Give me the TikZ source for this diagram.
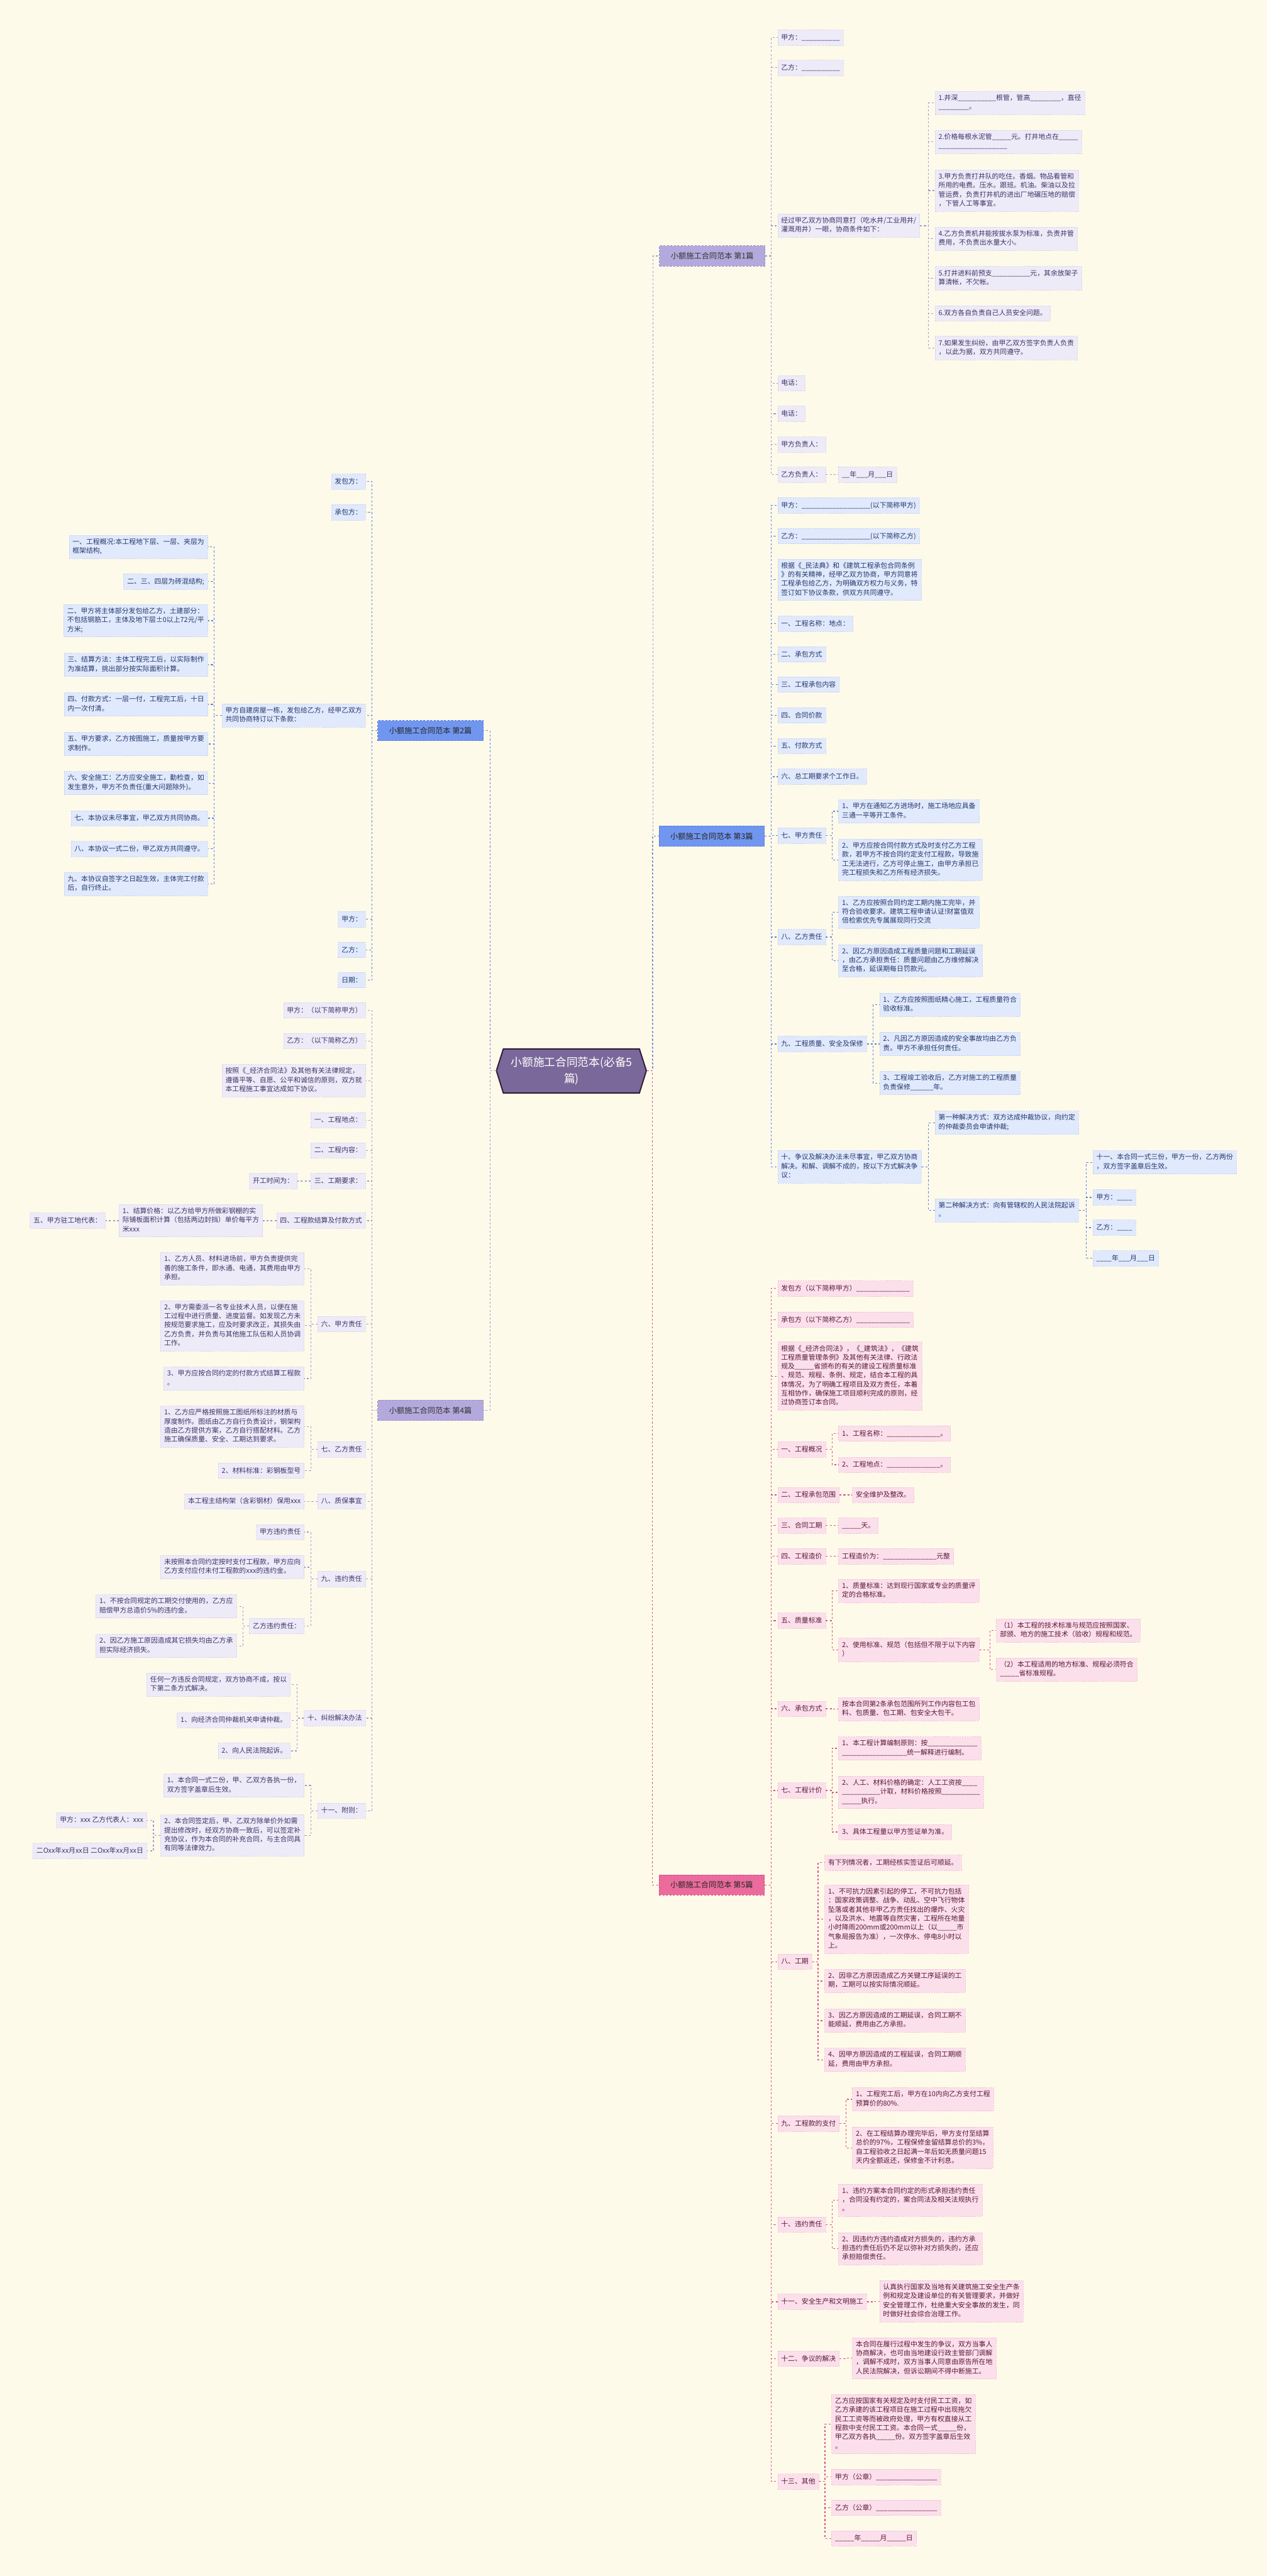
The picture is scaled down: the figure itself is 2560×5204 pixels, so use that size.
\documentclass[tikz,border=0pt]{standalone}
\usepackage{fontspec}
\setmainfont{Noto Sans CJK SC}
\definecolor{bgc}{HTML}{FEFAEA}
\definecolor{LavL}{HTML}{EEEBF8}\definecolor{LavB}{HTML}{D8D1EE}\definecolor{LavT}{HTML}{3D3366}
\definecolor{BluL}{HTML}{E1E9FC}\definecolor{BluB}{HTML}{C5D3F6}\definecolor{BluT}{HTML}{23386B}
\definecolor{PnkL}{HTML}{FBE0EC}\definecolor{PnkB}{HTML}{F2C0D5}\definecolor{PnkT}{HTML}{5A1835}
\definecolor{LavN}{HTML}{B4A9DC}\definecolor{LavNB}{HTML}{9A8CCB}
\definecolor{BluN}{HTML}{7196F0}\definecolor{BluNB}{HTML}{5577DD}
\definecolor{PnkN}{HTML}{EB6B9C}\definecolor{PnkNB}{HTML}{D14B80}
\definecolor{LavE}{HTML}{A497D0}\definecolor{BluE}{HTML}{5F80E2}\definecolor{PnkE}{HTML}{DA5385}
\definecolor{rootF}{HTML}{7A689A}\definecolor{rootB}{HTML}{2E1A33}
\newcommand\mybs{\rule[-2.2pt]{0pt}{9.1pt}}
\newcommand\myR[5]{\node[#1,anchor=west] (#2) at (#3,#4) {#5};}
\newcommand\myL[5]{\node[#1,anchor=east] (#2) at (#3,#4) {#5};}
\newcommand\myconR[3]{\draw[#1] (#2.east) -| ([xshift=-6.5pt]#3.west) -- (#3.west);}
\newcommand\myconL[3]{\draw[#1] (#2.west) -| ([xshift=6.5pt]#3.east) -- (#3.east);}
\tikzset{
 basebox/.style={font=\fontsize{6.9}{9.1}\selectfont, inner xsep=3.5pt, inner ysep=3.2pt, align=left,
   execute at begin node=\mybs, execute at end node=\mybs, line width=0.4pt, dash pattern=on 1.5pt off 1pt},
 lav/.style={basebox, fill=LavL, draw=LavB, text=LavT},
 blu/.style={basebox, fill=BluL, draw=BluB, text=BluT},
 pnk/.style={basebox, fill=PnkL, draw=PnkB, text=PnkT},
 brnode/.style={font=\fontsize{7.75}{9.5}\selectfont, minimum width=106.5pt, minimum height=20.5pt, inner sep=2pt,
   line width=0.6pt, dash pattern=on 2pt off 1.5pt},
 brlav/.style={brnode, fill=LavN, draw=LavNB, text=black!80},
 brblu/.style={brnode, fill=BluN, draw=BluNB, text=black!85},
 brpnk/.style={brnode, fill=PnkN, draw=PnkNB, text=black!85},
 eLav/.style={draw=LavE, line width=0.75pt, dash pattern=on 2pt off 2pt},
 eBlu/.style={draw=BluE, line width=0.75pt, dash pattern=on 2pt off 2pt},
 ePnk/.style={draw=PnkE, line width=0.75pt, dash pattern=on 2pt off 2pt},
}
\begin{document}
\catcode`\_=12
\begin{tikzpicture}[x=0.5pt,y=-0.5pt]
\useasboundingbox (0,0) rectangle (2560,5204);
\fill[bgc] (0,0) rectangle (2560,5204);
% root
\filldraw[fill=rootF, draw=rootB, line width=1.2pt] (1003,2163) -- (1017,2119) -- (1292,2119) -- (1306,2163) -- (1292,2208) -- (1017,2208) -- cycle;
\node[font=\fontsize{11.25}{16.5}\selectfont, text=white, align=center, minimum width=151.5pt, minimum height=44.5pt, inner sep=0pt] (root) at (1155,2163) {小额施工合同范本(必备5\\篇)};
% branch nodes
\node[brlav, anchor=west] (b1) at (1332,517) {小额施工合同范本 第1篇};
\node[brblu, anchor=west] (b3) at (1331,1689) {小额施工合同范本 第3篇};
\node[brpnk, anchor=west] (b5) at (1331,3808) {小额施工合同范本 第5篇};
\node[brblu, anchor=east] (b2) at (977,1476) {小额施工合同范本 第2篇};
\node[brlav, anchor=east] (b4) at (977,2849) {小额施工合同范本 第4篇};
% ===== branch 1 =====
\myR{lav}{p1a}{1571}{76}{甲方：__________}
\myR{lav}{p1b}{1571}{137}{乙方：__________}
\myR{lav}{p1c}{1571}{456}{经过甲乙双方协商同意打（吃水井/工业用井/\\灌溉用井）一眼，协商条件如下：}
\myR{lav}{q1a}{1889}{208}{1.井深__________根管，管高________，直径\\________。}
\myR{lav}{q1b}{1889}{287}{2.价格每根水泥管_____元。打井地点在_____\\__________________}
\myR{lav}{q1c}{1889}{385}{3.甲方负责打井队的吃住。香烟。物品看管和\\所用的电费。压水。跟班。机油。柴油以及拉\\管运费，负责打井机的进出厂地碾压地的赔偿\\，下管人工等事宜。}
\myR{lav}{q1d}{1889}{482}{4.乙方负责机井能按拔水泵为标准，负责井管\\费用，不负责出水量大小。}
\myR{lav}{q1e}{1889}{562}{5.打井进料前预支__________元，其余放架子\\算清帐，不欠帐。}
\myR{lav}{q1f}{1889}{633}{6.双方各自负责自己人员安全问题。}
\myR{lav}{q1g}{1889}{703}{7.如果发生纠纷，由甲乙双方签字负责人负责\\，以此为据，双方共同遵守。}
\myR{lav}{p1d}{1571}{774}{电话：}
\myR{lav}{p1e}{1571}{836}{电话：}
\myR{lav}{p1f}{1571}{898}{甲方负责人：}
\myR{lav}{p1g}{1571}{959}{乙方负责人：}
\myR{lav}{q1h}{1694}{959}{__年___月___日}
% ===== branch 3 =====
\myR{blu}{p3a}{1571}{1021}{甲方：__________________(以下简称甲方)}
\myR{blu}{p3b}{1571}{1083}{乙方：__________________(以下简称乙方)}
\myR{blu}{p3c}{1571}{1171}{根据《_民法典》和《建筑工程承包合同条例\\》的有关精神，经甲乙双方协商，甲方同意将\\工程承包给乙方，为明确双方权力与义务，特\\签订如下协议条款，供双方共同遵守。}
\myR{blu}{p3d}{1571}{1260}{一、工程名称：地点：}
\myR{blu}{p3e}{1571}{1322}{二、承包方式}
\myR{blu}{p3f}{1571}{1383}{三、工程承包内容}
\myR{blu}{p3g}{1571}{1445}{四、合同价款}
\myR{blu}{p3h}{1571}{1507}{五、付款方式}
\myR{blu}{p3i}{1571}{1569}{六、总工期要求个工作日。}
\myR{blu}{p3j}{1571}{1688}{七、甲方责任}
\myR{blu}{q3a}{1694}{1639}{1、甲方在通知乙方进场时，施工场地应具备\\三通一平等开工条件。}
\myR{blu}{q3b}{1694}{1737}{2、甲方应按合同付款方式及时支付乙方工程\\款，若甲方不按合同约定支付工程款，导致施\\工无法进行，乙方可停止施工，由甲方承担已\\完工程损失和乙方所有经济损失。}
\myR{blu}{p3k}{1571}{1893}{八、乙方责任}
\myR{blu}{q3c}{1694}{1843}{1、乙方应按照合同约定工期内施工完毕，并\\符合验收要求。建筑工程申请认证!财富值双\\倍检索优先专属展现同行交流}
\myR{blu}{q3d}{1694}{1941}{2、因乙方原因造成工程质量问题和工期延误\\，由乙方承担责任：质量问题由乙方维修解决\\至合格，延误期每日罚款元。}
\myR{blu}{p3l}{1571}{2109}{九、工程质量、安全及保修}
\myR{blu}{q3e}{1777}{2030}{1、乙方应按照图纸精心施工，工程质量符合\\验收标准。}
\myR{blu}{q3f}{1777}{2109}{2、凡因乙方原因造成的安全事故均由乙方负\\责。甲方不承担任何责任。}
\myR{blu}{q3g}{1777}{2188}{3、工程竣工验收后，乙方对施工的工程质量\\负责保修______年。}
\myR{blu}{p3m}{1571}{2357}{十、争议及解决办法未尽事宜，甲乙双方协商\\解决。和解、调解不成的，按以下方式解决争\\议：}
\myR{blu}{q3h}{1889}{2268}{第一种解决方式：双方达成仲裁协议，向约定\\的仲裁委员会申请仲裁;}
\myR{blu}{q3i}{1889}{2445}{第二种解决方式：向有管辖权的人民法院起诉\\。}
\myR{blu}{r3a}{2208}{2348}{十一、本合同一式三份，甲方一份，乙方两份\\，双方签字盖章后生效。}
\myR{blu}{r3b}{2208}{2419}{甲方：____}
\myR{blu}{r3c}{2208}{2480}{乙方：____}
\myR{blu}{r3d}{2208}{2542}{____年___月___日}
% ===== branch 5 =====
\myR{pnk}{p5a}{1571}{2603}{发包方（以下简称甲方）______________}
\myR{pnk}{p5b}{1571}{2666}{承包方（以下简称乙方）______________}
\myR{pnk}{p5c}{1571}{2780}{根据《_经济合同法》，《_建筑法》，《建筑\\工程质量管理条例》及其他有关法律、行政法\\规及_____省颁布的有关的建设工程质量标准\\、规范、规程、条例、规定，结合本工程的具\\体情况，为了明确工程项目及双方责任，本着\\互相协作，确保施工项目顺利完成的原则，经\\过协商签订本合同。}
\myR{pnk}{p5d}{1571}{2928}{一、工程概况}
\myR{pnk}{q5a}{1694}{2896}{1、工程名称：______________。}
\myR{pnk}{q5b}{1694}{2959}{2、工程地点：______________。}
\myR{pnk}{p5e}{1571}{3020}{二、工程承包范围}
\myR{pnk}{q5c}{1722}{3020}{安全维护及整改。}
\myR{pnk}{p5f}{1571}{3082}{三、合同工期}
\myR{pnk}{q5d}{1694}{3082}{_____天。}
\myR{pnk}{p5g}{1571}{3144}{四、工程造价}
\myR{pnk}{q5e}{1694}{3144}{工程造价为：______________元整}
\myR{pnk}{p5h}{1571}{3274}{五、质量标准}
\myR{pnk}{q5f}{1694}{3214}{1、质量标准：达到现行国家或专业的质量评\\定的合格标准。}
\myR{pnk}{q5g}{1694}{3333}{2、使用标准、规范（包括但不限于以下内容\\）}
\myR{pnk}{r5a}{2013}{3294}{（1）本工程的技术标准与规范应按照国家、\\部颁、地方的施工技术（验收）规程和规范。}
\myR{pnk}{r5b}{2013}{3373}{（2）本工程适用的地方标准、规程必须符合\\_____省标准规程。}
\myR{pnk}{p5i}{1571}{3452}{六、承包方式}
\myR{pnk}{q5h}{1694}{3453}{按本合同第2条承包范围所列工作内容包工包\\料、包质量、包工期、包安全大包干。}
\myR{pnk}{p5j}{1571}{3617}{七、工程计价}
\myR{pnk}{q5i}{1694}{3532}{1、本工程计算编制原则：按_____________\\_________________统一解释进行编制。}
\myR{pnk}{q5j}{1694}{3621}{2、人工、材料价格的确定：人工工资按____\\__________计取，材料价格按照__________\\_____执行。}
\myR{pnk}{q5k}{1694}{3701}{3、具体工程量以甲方签证单为准。}
\myR{pnk}{p5k}{1571}{3963}{八、工期}
\myR{pnk}{q5l}{1666}{3763}{有下列情况者，工期经核实签证后可顺延。}
\myR{pnk}{q5m}{1666}{3877}{1、不可抗力因素引起的停工，不可抗力包括\\：国家政策调整、战争、动乱、空中飞行物体\\坠落或者其他非甲乙方责任找出的爆炸、火灾\\，以及洪水、地震等自然灾害，工程所在地量\\小时降雨200mm或200mm以上（以_____市\\气象局报告为准），一次停水、停电8小时以\\上。}
\myR{pnk}{q5n}{1666}{4002}{2、因非乙方原因造成乙方关键工序延误的工\\期，工期可以按实际情况顺延。}
\myR{pnk}{q5o}{1666}{4082}{3、因乙方原因造成的工期延误，合同工期不\\能顺延，费用由乙方承担。}
\myR{pnk}{q5p}{1666}{4161}{4、因甲方原因造成的工程延误，合同工期顺\\延，费用由甲方承担。}
\myR{pnk}{p5l}{1571}{4290}{九、工程款的支付}
\myR{pnk}{q5q}{1722}{4241}{1、工程完工后，甲方在10内向乙方支付工程\\预算价的80\%.}
\myR{pnk}{q5r}{1722}{4339}{2、在工程结算办理完毕后，甲方支付至结算\\总价的97\%，工程保修金留结算总价的3\%，\\自工程验收之日起满一年后如无质量问题15\\天内全额返还，保修金不计利息。}
\myR{pnk}{p5m}{1571}{4494}{十、违约责任}
\myR{pnk}{q5s}{1694}{4445}{1、违约方案本合同约定的形式承担违约责任\\，合同没有约定的，案合同法及相关法规执行\\。}
\myR{pnk}{q5t}{1694}{4543}{2、因违约方违约造成对方损失的，违约方承\\担违约责任后仍不足以弥补对方损失的，还应\\承担赔偿责任。}
\myR{pnk}{p5n}{1571}{4650}{十一、安全生产和文明施工}
\myR{pnk}{q5u}{1777}{4649}{认真执行国家及当地有关建筑施工安全生产条\\例和规定及建设单位的有关管理要求，并做好\\安全管理工作，杜绝重大安全事故的发生，同\\时做好社会综合治理工作。}
\myR{pnk}{p5o}{1571}{4765}{十二、争议的解决}
\myR{pnk}{q5v}{1722}{4764}{本合同在履行过程中发生的争议，双方当事人\\协商解决，也可由当地建设行政主管部门调解\\，调解不成时，双方当事人同意由原告所在地\\人民法院解决，但诉讼期间不得中断施工。}
\myR{pnk}{p5p}{1571}{5013}{十三、其他}
\myR{pnk}{q5w}{1680}{4897}{乙方应按国家有关规定及时支付民工工资，如\\乙方承建的该工程项目在施工过程中出现拖欠\\民工工资等而被政府处理，甲方有权直接从工\\程款中支付民工工资。本合同一式_____份，\\甲乙双方各执_____份。双方签字盖章后生效\\。}
\myR{pnk}{q5x}{1680}{5004}{甲方（公章）________________}
\myR{pnk}{q5y}{1680}{5066}{乙方（公章）________________}
\myR{pnk}{q5z}{1680}{5128}{_____年_____月_____日}
% ===== branch 2 =====
\myL{blu}{p2a}{739}{973}{发包方：}
\myL{blu}{p2b}{739}{1035}{承包方：}
\myL{blu}{p2c}{739}{1445}{甲方自建房屋一栋，发包给乙方，经甲乙双方\\共同协商特订以下条款：}
\myL{blu}{q2a}{420}{1105}{一、工程概况:本工程地下层、一层、夹层为\\框架结构,}
\myL{blu}{q2b}{420}{1175}{二、三、四层为砖混结构;}
\myL{blu}{q2c}{420}{1254}{二、甲方将主体部分发包给乙方，土建部分：\\不包括钢筋工，主体及地下层±0以上72元/平\\方米;}
\myL{blu}{q2d}{420}{1343}{三、结算方法：主体工程完工后，以实际制作\\为准结算，挑出部分按实际面积计算。}
\myL{blu}{q2e}{420}{1423}{四、付款方式：一层一付，工程完工后，十日\\内一次付清。}
\myL{blu}{q2f}{420}{1503}{五、甲方要求，乙方按图施工，质量按甲方要\\求制作。}
\myL{blu}{q2g}{420}{1582}{六、安全施工：乙方应安全施工，勤检查，如\\发生意外，甲方不负责任(重大问题除外)。}
\myL{blu}{q2h}{420}{1653}{七、本协议未尽事宜，甲乙双方共同协商。}
\myL{blu}{q2i}{420}{1715}{八、本协议一式二份，甲乙双方共同遵守。}
\myL{blu}{q2j}{420}{1786}{九、本协议自签字之日起生效，主体完工付款\\后，自行终止。}
\myL{blu}{p2d}{739}{1857}{甲方：}
\myL{blu}{p2e}{739}{1919}{乙方：}
\myL{blu}{p2f}{739}{1980}{日期：}
% ===== branch 4 =====
\myL{lav}{p4a}{739}{2041}{甲方：（以下简称甲方）}
\myL{lav}{p4b}{739}{2103}{乙方：（以下简称乙方）}
\myL{lav}{p4c}{739}{2183}{按照《_经济合同法》及其他有关法律规定，\\遵循平等、自愿、公平和诚信的原则，双方就\\本工程施工事宜达成如下协议。}
\myL{lav}{p4d}{739}{2263}{一、工程地点：}
\myL{lav}{p4e}{739}{2324}{二、工程内容：}
\myL{lav}{p4f}{739}{2386}{三、工期要求：}
\myL{lav}{q4a}{601}{2386}{开工时间为：}
\myL{lav}{p4g}{739}{2466}{四、工程款结算及付款方式}
\myL{lav}{q4b}{531}{2466}{1、结算价格：以乙方给甲方所做彩钢棚的实\\际铺板面积计算（包括两边封挡）单价每平方\\米xxx}
\myL{lav}{r4a}{213}{2466}{五、甲方驻工地代表：}
\myL{lav}{p4h}{739}{2675}{六、甲方责任}
\myL{lav}{q4c}{615}{2563}{1、乙方人员、材料进场前，甲方负责提供完\\善的施工条件，即水通、电通，其费用由甲方\\承担。}
\myL{lav}{q4d}{615}{2678}{2、甲方需委派一名专业技术人员，以便在施\\工过程中进行质量、进度监督。如发现乙方未\\按规范要求施工，应及时要求改正，其损失由\\乙方负责，并负责与其他施工队伍和人员协调\\工作。}
\myL{lav}{q4e}{615}{2785}{3、甲方应按合同约定的付款方式结算工程款\\。}
\myL{lav}{p4i}{739}{2928}{七、乙方责任}
\myL{lav}{q4f}{615}{2882}{1、乙方应严格按照施工图纸所标注的材质与\\厚度制作。图纸由乙方自行负责设计，钢架构\\造由乙方提供方案，乙方自行搭配材料。乙方\\施工确保质量、安全、工期达到要求。}
\myL{lav}{q4g}{615}{2971}{2、材料标准：彩钢板型号}
\myL{lav}{p4j}{739}{3033}{八、质保事宜}
\myL{lav}{q4h}{615}{3033}{本工程主结构架（含彩钢材）保用xxx}
\myL{lav}{p4k}{739}{3190}{九、违约责任}
\myL{lav}{q4i}{615}{3095}{甲方违约责任}
\myL{lav}{q4j}{615}{3166}{未按照本合同约定按时支付工程款，甲方应向\\乙方支付应付未付工程款的xxx的违约金。}
\myL{lav}{q4k}{615}{3285}{乙方违约责任：}
\myL{lav}{r4b}{478}{3245}{1、不按合同规定的工期交付使用的，乙方应\\赔偿甲方总造价5\%的违约金。}
\myL{lav}{r4c}{478}{3325}{2、因乙方施工原因造成其它损失均由乙方承\\担实际经济损失。}
\myL{lav}{p4l}{739}{3471}{十、纠纷解决办法}
\myL{lav}{q4l}{587}{3403}{任何一方违反合同规定，双方协商不成，按以\\下第二条方式解决。}
\myL{lav}{q4m}{587}{3475}{1、向经济合同仲裁机关申请仲裁。}
\myL{lav}{q4n}{587}{3537}{2、向人民法院起诉。}
\myL{lav}{p4m}{739}{3658}{十一、附则：}
\myL{lav}{q4o}{615}{3607}{1、本合同一式二份，甲、乙双方各执一份，\\双方签字盖章后生效。}
\myL{lav}{q4p}{615}{3708}{2、本合同签定后，甲、乙双方除单价外如需\\提出修改时，经双方协商一致后，可以签定补\\充协议，作为本合同的补充合同，与主合同具\\有同等法律效力。}
\myL{lav}{r4d}{297}{3677}{甲方：xxx 乙方代表人：xxx}
\myL{lav}{r4e}{297}{3739}{二Oxx年xx月xx日 二Oxx年xx月xx日}
% ===== connectors =====
\myconR{eLav}{root}{b1}
\myconR{eBlu}{root}{b3}
\myconL{eBlu}{root}{b2}
\myconL{eLav}{root}{b4}
\myconR{ePnk}{root}{b5}
\foreach \c in {p1a,p1b,p1c,p1d,p1e,p1f,p1g} {\myconR{eLav}{b1}{\c}}
\foreach \c in {q1a,q1b,q1c,q1d,q1e,q1f,q1g} {\myconR{eLav}{p1c}{\c}}
\myconR{eLav}{p1g}{q1h}
\foreach \c in {p3a,p3b,p3c,p3d,p3e,p3f,p3g,p3h,p3i,p3j,p3k,p3l,p3m} {\myconR{eBlu}{b3}{\c}}
\foreach \c in {q3a,q3b} {\myconR{eBlu}{p3j}{\c}}
\foreach \c in {q3c,q3d} {\myconR{eBlu}{p3k}{\c}}
\foreach \c in {q3e,q3f,q3g} {\myconR{eBlu}{p3l}{\c}}
\foreach \c in {q3h,q3i} {\myconR{eBlu}{p3m}{\c}}
\foreach \c in {r3a,r3b,r3c,r3d} {\myconR{eBlu}{q3i}{\c}}
\foreach \c in {p5a,p5b,p5c,p5d,p5e,p5f,p5g,p5h,p5i,p5j,p5k,p5l,p5m,p5n,p5o,p5p} {\myconR{ePnk}{b5}{\c}}
\foreach \c in {q5a,q5b} {\myconR{ePnk}{p5d}{\c}}
\myconR{ePnk}{p5e}{q5c}
\myconR{ePnk}{p5f}{q5d}
\myconR{ePnk}{p5g}{q5e}
\foreach \c in {q5f,q5g} {\myconR{ePnk}{p5h}{\c}}
\foreach \c in {r5a,r5b} {\myconR{ePnk}{q5g}{\c}}
\myconR{ePnk}{p5i}{q5h}
\foreach \c in {q5i,q5j,q5k} {\myconR{ePnk}{p5j}{\c}}
\foreach \c in {q5l,q5m,q5n,q5o,q5p} {\myconR{ePnk}{p5k}{\c}}
\foreach \c in {q5q,q5r} {\myconR{ePnk}{p5l}{\c}}
\foreach \c in {q5s,q5t} {\myconR{ePnk}{p5m}{\c}}
\myconR{ePnk}{p5n}{q5u}
\myconR{ePnk}{p5o}{q5v}
\foreach \c in {q5w,q5x,q5y,q5z} {\myconR{ePnk}{p5p}{\c}}
\foreach \c in {p2a,p2b,p2c,p2d,p2e,p2f} {\myconL{eBlu}{b2}{\c}}
\foreach \c in {q2a,q2b,q2c,q2d,q2e,q2f,q2g,q2h,q2i,q2j} {\myconL{eBlu}{p2c}{\c}}
\foreach \c in {p4a,p4b,p4c,p4d,p4e,p4f,p4g,p4h,p4i,p4j,p4k,p4l,p4m} {\myconL{eLav}{b4}{\c}}
\myconL{eLav}{p4f}{q4a}
\myconL{eLav}{p4g}{q4b}
\myconL{eLav}{q4b}{r4a}
\foreach \c in {q4c,q4d,q4e} {\myconL{eLav}{p4h}{\c}}
\foreach \c in {q4f,q4g} {\myconL{eLav}{p4i}{\c}}
\myconL{eLav}{p4j}{q4h}
\foreach \c in {q4i,q4j,q4k} {\myconL{eLav}{p4k}{\c}}
\foreach \c in {r4b,r4c} {\myconL{eLav}{q4k}{\c}}
\foreach \c in {q4l,q4m,q4n} {\myconL{eLav}{p4l}{\c}}
\foreach \c in {q4o,q4p} {\myconL{eLav}{p4m}{\c}}
\foreach \c in {r4d,r4e} {\myconL{eLav}{q4p}{\c}}
\end{tikzpicture}
\end{document}
